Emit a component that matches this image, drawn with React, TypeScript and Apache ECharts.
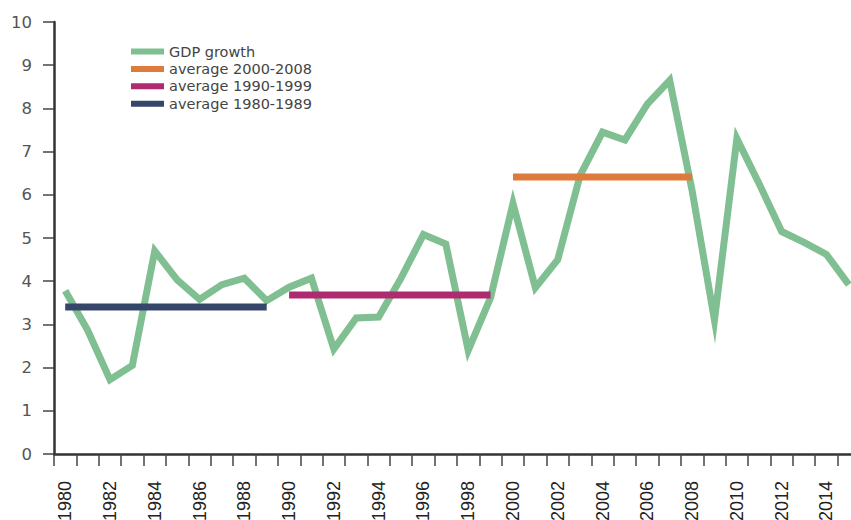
import React, { useEffect, useRef } from "react";
import * as echarts from "echarts";

const years = [
  "1980", "1981", "1982", "1983", "1984", "1985", "1986", "1987", "1988", "1989",
  "1990", "1991", "1992", "1993", "1994", "1995", "1996", "1997", "1998", "1999",
  "2000", "2001", "2002", "2003", "2004", "2005", "2006", "2007", "2008", "2009",
  "2010", "2011", "2012", "2013", "2014", "2015",
];

const gdpGrowth = [
  3.78, 2.87, 1.72, 2.05, 4.7, 4.03, 3.58, 3.92, 4.07, 3.55,
  3.86, 4.07, 2.43, 3.15, 3.17, 4.07, 5.08, 4.86, 2.4, 3.62,
  5.8, 3.85, 4.5, 6.45, 7.45, 7.27, 8.1, 8.65, 6.1, 3.1,
  7.3, 6.25, 5.15, 4.9, 4.62, 3.92,
];

const avgNames = ["average 2000-2008", "average 1990-1999", "average 1980-1989"];
const avgValues = [6.41, 3.68, 3.4];
const avgStart = ["2000", "1990", "1980"];
const avgEnd = ["2008", "1999", "1989"];
const avgColors = ["#de7a3c", "#ae2b70", "#36466a"];

const yTicks = [0, 10, 1];

export default function App() {
  const ref = useRef<HTMLDivElement>(null);

  useEffect(() => {
    if (!ref.current) return;
    const chart = echarts.init(ref.current, null, { renderer: "svg" });

    const avgSeries = avgNames.map((name, i) => {
      const s = years.indexOf(avgStart[i]);
      const e = years.indexOf(avgEnd[i]);
      return {
        name,
        type: "line",
        symbol: "none",
        data: years.map((_, k) => (k >= s && k <= e ? avgValues[i] : null)),
        lineStyle: { width: 7, color: avgColors[i], cap: "butt" },
        itemStyle: { color: avgColors[i] },
        z: 3,
      };
    });

    chart.setOption({
      animation: false,
      backgroundColor: "#ffffff",
      grid: {
        left: 54,
        top: 22,
        width: 806,
        height: 432,
        containLabel: false,
        outerBoundsMode: "none",
      },
      legend: {
        orient: "vertical",
        left: 131,
        top: 44,
        padding: 0,
        itemWidth: 33,
        itemHeight: 6,
        itemGap: 2.4,
        icon: "rect",
        textStyle: { fontFamily: "DejaVu Sans", fontSize: 14.5, color: "#444", lineHeight: 14 },
        data: ["GDP growth", ...avgNames],
      },
      xAxis: {
        type: "category",
        data: years,
        boundaryGap: true,
        axisLine: { show: true, lineStyle: { color: "#333", width: 2.5 } },
        axisTick: { show: true, interval: 0, length: 12, lineStyle: { color: "#444", width: 1.5 } },
        axisLabel: {
          interval: 1,
          rotate: 90,
          margin: 27,
          fontFamily: "Liberation Sans",
          fontSize: 18,
          color: "#222",
        },
        splitLine: { show: false },
      },
      yAxis: {
        type: "value",
        min: yTicks[0],
        max: yTicks[1],
        interval: yTicks[2],
        axisLine: { show: true, lineStyle: { color: "#333", width: 2.5 } },
        axisTick: { show: true, length: 11, lineStyle: { color: "#444", width: 1.5 } },
        axisLabel: { margin: 22, fontFamily: "DejaVu Sans", fontSize: 16.5, color: "#555" },
        splitLine: { show: false },
      },
      series: [
        {
          name: "GDP growth",
          type: "line",
          symbol: "none",
          data: gdpGrowth,
          lineStyle: { width: 7, color: "#80bf91", join: "miter", miterLimit: 12 },
          itemStyle: { color: "#80bf91" },
          z: 2,
        },
        ...avgSeries,
      ],
    });

    return () => chart.dispose();
  }, []);

  return (
    <div
      ref={ref}
      style={{ position: "absolute", left: 0, top: 0, width: 851, height: 520 }}
    />
  );
}
